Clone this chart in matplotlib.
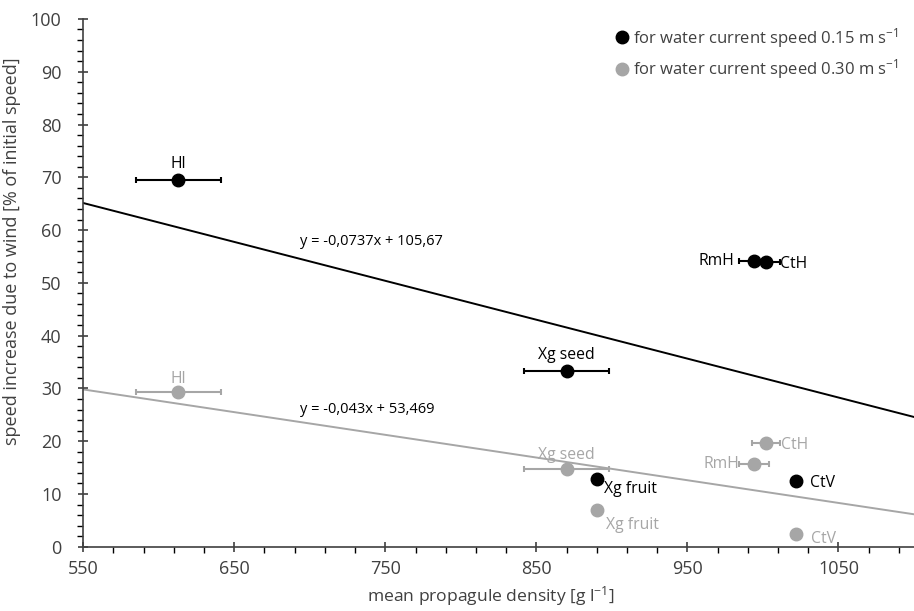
import matplotlib.pyplot as plt
from matplotlib.lines import Line2D
import numpy as np

plt.rcParams['font.family'] = ['Open Sans', 'DejaVu Sans']
plt.rcParams['mathtext.fontset'] = 'custom'
plt.rcParams['mathtext.rm'] = 'Open Sans'
plt.rcParams['mathtext.default'] = 'regular'

# species / propagule type
labels = ['Hl', 'RmH', 'CtH', 'Xg seed', 'Xg fruit', 'CtV']
density = [613, 994, 1002, 870, 890, 1022]
density_err = [28, 10, 9, 28, 0, 3]
speed_015 = [69.5, 54.2, 54.0, 33.3, 12.9, 12.5]
speed_030 = [29.3, 15.7, 19.6, 14.8, 7.0, 2.4]

# trend lines
slope_015, icpt_015 = -0.0737, 105.67
slope_030, icpt_030 = -0.043, 53.469

black = '#000000'
grey = '#a6a6a6'
dark = '#404040'

fig = plt.figure(figsize=(9.14, 6.11), dpi=100)
ax = fig.add_axes([0.091, 0.105, 0.909, 0.864])

xs = np.array([550, 1100])
ax.plot(xs, slope_015 * xs + icpt_015, color=black, lw=1.4, zorder=1)
ax.plot(xs, slope_030 * xs + icpt_030, color=grey, lw=1.4, zorder=1)

ax.errorbar(density, speed_030, xerr=density_err, fmt='o', color=grey,
            ms=9, elinewidth=1.5, capsize=2.5, capthick=1.5, zorder=2)
ax.errorbar(density, speed_015, xerr=density_err, fmt='o', color=black,
            ms=9, elinewidth=1.5, capsize=2.5, capthick=1.5, zorder=3)

fs = 11.3
# labels for 0.15 m/s
ax.text(density[0], speed_015[0] + 1.6, 'Hl', color=black, fontsize=fs, ha='center', va='bottom')
ax.text(density[1] - 13, speed_015[1], 'RmH', color=black, fontsize=fs, ha='right', va='center')
ax.text(density[2] + 9, speed_015[2] - 0.5, 'CtH', color=black, fontsize=fs, ha='left', va='center')
ax.text(density[3], speed_015[3] + 1.5, 'Xg seed', color=black, fontsize=fs, ha='center', va='bottom')
ax.text(density[4] + 5, speed_015[4] - 2, 'Xg fruit', color=black, fontsize=fs, ha='left', va='center')
ax.text(density[5] + 9, speed_015[5] - 0.5, 'CtV', color=black, fontsize=fs, ha='left', va='center')
# labels for 0.30 m/s
ax.text(density[0], speed_030[0] + 1, 'Hl', color=grey, fontsize=fs, ha='center', va='bottom')
ax.text(density[1] - 10, speed_030[1], 'RmH', color=grey, fontsize=fs, ha='right', va='center')
ax.text(density[2] + 10, speed_030[2] - 0.3, 'CtH', color=grey, fontsize=fs, ha='left', va='center')
ax.text(density[3], speed_030[3] + 1, 'Xg seed', color=grey, fontsize=fs, ha='center', va='bottom')
ax.text(density[4] + 6, speed_030[4] - 2.8, 'Xg fruit', color=grey, fontsize=fs, ha='left', va='center')
ax.text(density[5] + 10, speed_030[5] - 1, 'CtV', color=grey, fontsize=fs, ha='left', va='center')

ax.text(693.5, 57.8, 'y = -0,0737x + 105,67', fontsize=10.5, ha='left', va='center')
ax.text(693.5, 26.1, 'y = -0,043x + 53,469', fontsize=10.5, ha='left', va='center')

ax.set_xlim(550, 1100)
ax.set_ylim(0, 100)
ax.set_xticks([550, 650, 750, 850, 950, 1050])
ax.set_xticks(np.arange(550, 1100, 20), minor=True)
ax.set_yticks(np.arange(0, 101, 10))
ax.set_yticks(np.arange(0, 101, 2), minor=True)
ax.tick_params(labelsize=13, color=dark, labelcolor=dark)
ax.tick_params(which='major', length=7, width=1.2, direction='inout')
ax.tick_params(which='minor', length=4, width=1, direction='out')
ax.tick_params(axis='x', which='major', pad=6)
ax.tick_params(axis='y', which='major', pad=12)

for s in ['top', 'right']:
    ax.spines[s].set_visible(False)
for s in ['left', 'bottom']:
    ax.spines[s].set_color(dark)
    ax.spines[s].set_linewidth(1.2)

ax.set_xlabel('mean propagule density [g l$^{-1}$]', fontsize=12.6, color=dark, labelpad=4)
ax.xaxis.set_label_coords(0.49, -0.07)
ax.set_ylabel('speed increase due to wind [% of initial speed]', fontsize=13, color=dark)
ax.yaxis.set_label_coords(-0.075, 0.56)

handles = [Line2D([], [], ls='none', marker='o', ms=9, color=black),
           Line2D([], [], ls='none', marker='o', ms=9, color=grey)]
names = ['for water current speed 0.15 m s$^{-1}$',
         'for water current speed 0.30 m s$^{-1}$']
leg = ax.legend(handles, names, loc='upper right', bbox_to_anchor=(1.0, 1.015),
                frameon=False, fontsize=12, handletextpad=0.2, labelspacing=0.45,
                handlelength=1.0)
for t in leg.get_texts():
    t.set_color(dark)

fig.savefig('out.png', dpi=100)
